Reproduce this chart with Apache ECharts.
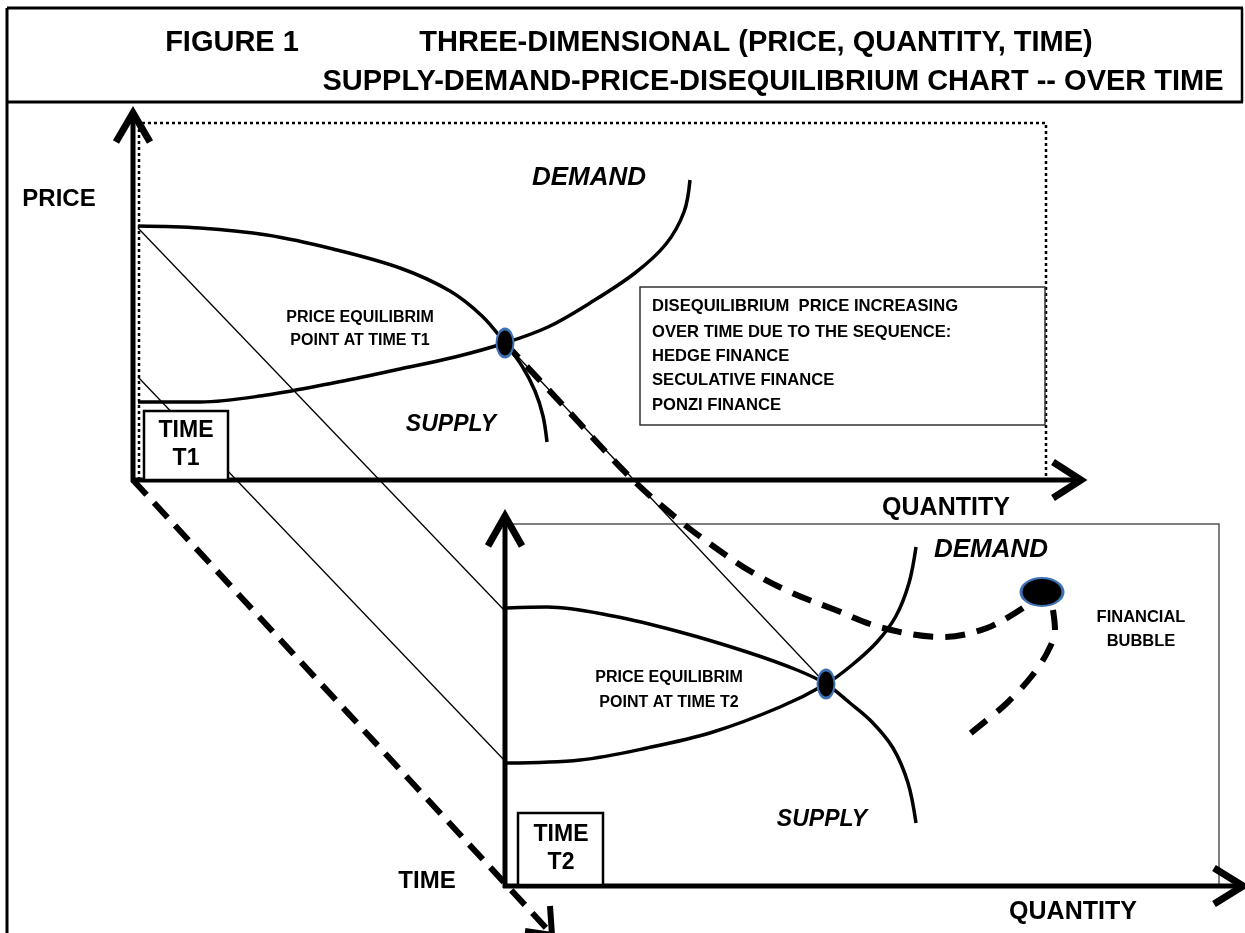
<!DOCTYPE html>
<html>
<head>
<meta charset="utf-8">
<script src="https://cdn.jsdelivr.net/npm/echarts@6/dist/echarts.min.js"></script>
<style>
html,body{margin:0;padding:0;background:#fff;}
#chart{width:1245px;height:933px;}
</style>
</head>
<body>
<div id="chart"></div>
<script>
// ---------- diagram values (canvas units: x to the right, y downwards) ----------
const titleLines = ['FIGURE 1', 'THREE-DIMENSIONAL (PRICE, QUANTITY, TIME)', 'SUPPLY-DEMAND-PRICE-DISEQUILIBRIUM CHART -- OVER TIME'];
const noteLines = ['DISEQUILIBRIUM  PRICE INCREASING', 'OVER TIME DUE TO THE SEQUENCE:', 'HEDGE FINANCE', 'SECULATIVE FINANCE', 'PONZI FINANCE'];

// outer frame
const frameTop = [[7, 8], [1243, 8]];
const frameSep = [[7, 102], [1243, 102]];
const frameLeft = [[7, 8], [7, 933]];
const frameRight = [[1242, 8], [1242, 102]];

// panel T1
const t1PriceAxis = [[133, 482], [133, 116]];
const t1PriceArrow = [[116, 142], [133, 113], [150, 142]];
const t1QtyAxis = [[131, 480], [1078, 480]];
const t1QtyArrow = [[1053, 462], [1081, 480], [1053, 498]];
const t1DottedFrame = [[139, 480], [139, 123], [1046, 123], [1046, 480]];
const t1SupplyDown = [[138, 226], [200, 228], [267, 235], [333, 249], [400, 268], [450, 291], [482, 316], [505, 343], [522, 366], [535, 391], [543, 416], [547, 442]];
const t1DemandUp = [[138, 402], [200, 402], [267, 395], [333, 383], [400, 369], [455, 357], [505, 343], [548, 327], [590, 303], [635, 273], [666, 244], [684, 212], [690, 180]];
const t1Equilibrium = [505, 343];

// panel T2
const t2PriceAxis = [[505, 888], [505, 518]];
const t2PriceArrow = [[488, 546], [505, 516], [522, 546]];
const t2QtyAxis = [[503, 886], [1240, 886]];
const t2QtyArrow = [[1214, 868], [1243, 886], [1214, 904]];
const t2Frame = [[512, 524], [1219, 524], [1219, 886]];
const t2SupplyDown = [[507, 608], [547, 607], [613, 616], [680, 632], [747, 652], [797, 670], [826, 684], [850, 703], [872, 722], [893, 748], [908, 783], [916, 823]];
const t2DemandUp = [[507, 763], [580, 760], [647, 748], [713, 732], [780, 707], [826, 684], [852, 665], [877, 642], [896, 616], [909, 583], [916, 547]];
const t2Equilibrium = [826, 684];

// links between the two time slices
const linkTop = [[138, 228], [505, 611]];
const linkBottom = [[138, 377], [505, 761]];
const linkEquilibria = [[505, 343], [826, 684]];
const timeAxis = [[133, 480], [548, 930]];
const timeArrow = [[550, 906], [552, 935], [525, 931]];

// disequilibrium price path and bubble
const pathToBubble = [[505, 343], [560, 402], [633, 480], [680, 521], [713, 546], [750, 571], [790, 592], [833, 609], [883, 628], [943, 637], [987, 628], [1023, 608]];
const bubble = [1042, 592];
const pathAfterBubble = [[1053, 610], [1055, 630], [1047, 653], [1031, 677], [1008, 702], [987, 720], [962, 740]];

// boxes [x0, y0, x1, y1]
const noteBox = [640, 287, 1045, 425];
const t1TimeBox = [144, 411, 228, 480];
const t2TimeBox = [518, 813, 603, 885];

// ---------- chart ----------
const chart = echarts.init(document.getElementById('chart'), null, {renderer: 'canvas'});
const FONT = '"Liberation Sans", Arial, sans-serif';

function seg(name, data, width, dash, z, smooth, color) {
  return {
    type: 'line', name: name, data: data, symbol: 'none', smooth: smooth ? 0.35 : false,
    clip: false, silent: true, animation: false, z: z || 2,
    lineStyle: {color: color || '#000', width: width, type: dash || 'solid', cap: 'butt', join: 'miter', opacity: 1}
  };
}
function dot(name, pt, size) {
  return {
    type: 'scatter', name: name, data: [pt], symbol: 'circle', symbolSize: size, clip: false,
    silent: true, animation: false, z: 6,
    itemStyle: {color: '#000', borderColor: '#3f72b5', borderWidth: 2.5, opacity: 1}
  };
}

const series = [
  seg('frameTop', frameTop, 3), seg('frameSep', frameSep, 3), seg('frameLeft', frameLeft, 3), seg('frameRight', frameRight, 2.5),
  seg('t1DottedFrame', t1DottedFrame, 2.5, [3, 3], 1),
  seg('t1PriceAxis', t1PriceAxis, 5), seg('t1PriceArrow', t1PriceArrow, 7),
  seg('t1QtyAxis', t1QtyAxis, 5), seg('t1QtyArrow', t1QtyArrow, 7),
  seg('linkTop', linkTop, 1.3), seg('linkBottom', linkBottom, 1.3), seg('linkEquilibria', linkEquilibria, 1.3),
  seg('t1SupplyDown', t1SupplyDown, 3.5, null, 3, true), seg('t1DemandUp', t1DemandUp, 3.5, null, 3, true),
  seg('t2Frame', t2Frame, 1.5, null, 1, false, '#555'),
  seg('t2PriceAxis', t2PriceAxis, 5), seg('t2PriceArrow', t2PriceArrow, 7),
  seg('t2QtyAxis', t2QtyAxis, 5), seg('t2QtyArrow', t2QtyArrow, 7),
  seg('t2SupplyDown', t2SupplyDown, 3.5, null, 3, true), seg('t2DemandUp', t2DemandUp, 3.5, null, 3, true),
  seg('timeAxis', timeAxis, 6, [20, 11], 4), seg('timeArrow', timeArrow, 6, null, 4),
  seg('pathToBubble', pathToBubble, 6, [20, 12], 4, true), seg('pathAfterBubble', pathAfterBubble, 6, [20, 14], 4, true),
  dot('t1Equilibrium', t1Equilibrium, [17, 28]), dot('t2Equilibrium', t2Equilibrium, [17, 28]), dot('bubble', bubble, [42, 28])
];

chart.setOption({
  animation: false,
  backgroundColor: '#fff',
  grid: {left: 0, right: 0, top: 0, bottom: 0},
  xAxis: {type: 'value', min: 0, max: 1245, show: false},
  yAxis: {type: 'value', min: 0, max: 933, inverse: true, show: false},
  series: series
});

function px(x, y) { return chart.convertToPixel({gridIndex: 0}, [x, y]); }
function txt(str, x, y, size, opt) {
  opt = opt || {};
  const p = px(x, y);
  return {
    type: 'text', z: 30, silent: true,
    style: {
      text: str, x: p[0], y: p[1], fill: '#000',
      fontFamily: FONT, fontSize: size, fontWeight: 'bold', fontStyle: opt.italic ? 'italic' : 'normal',
      align: opt.align || 'center', verticalAlign: 'middle'
    }
  };
}
function box(b, lw, stroke) {
  const a = px(b[0], b[1]), c = px(b[2], b[3]);
  return {type: 'rect', z: 20, silent: true, shape: {x: a[0], y: a[1], width: c[0] - a[0], height: c[1] - a[1]},
          style: {fill: '#fff', stroke: stroke || '#000', lineWidth: lw}};
}

const graphics = [
  box(noteBox, 1.5, '#333'), box(t1TimeBox, 2.5), box(t2TimeBox, 2.5),
  txt(titleLines[0], 232, 43, 29),
  txt(titleLines[1], 756, 43, 29),
  txt(titleLines[2], 773, 82, 29),
  txt('PRICE', 59, 199, 24),
  txt('DEMAND', 589, 178, 26, {italic: true}),
  txt('SUPPLY', 451, 425, 23, {italic: true}),
  txt('PRICE EQUILIBRIM', 360, 318, 16),
  txt('POINT AT TIME T1', 360, 341, 16),
  txt('TIME', 186, 431, 23), txt('T1', 186, 459, 23),
  txt('QUANTITY', 946, 508, 25),
  txt('DEMAND', 991, 550, 26, {italic: true}),
  txt('SUPPLY', 822, 820, 23, {italic: true}),
  txt('PRICE EQUILIBRIM', 669, 678, 16),
  txt('POINT AT TIME T2', 669, 703, 16),
  txt('FINANCIAL', 1141, 617, 16.5), txt('BUBBLE', 1141, 641, 16.5),
  txt('TIME', 561, 835, 23), txt('T2', 561, 863, 23),
  txt('TIME', 427, 881, 24),
  txt('QUANTITY', 1073, 912, 25)
];
noteLines.forEach(function (s, i) {
  const ys = [306, 332, 356, 380, 405];
  graphics.push(txt(s, 652, ys[i], 16.6, {align: 'left'}));
});

chart.setOption({graphic: graphics});
</script>
</body>
</html>
